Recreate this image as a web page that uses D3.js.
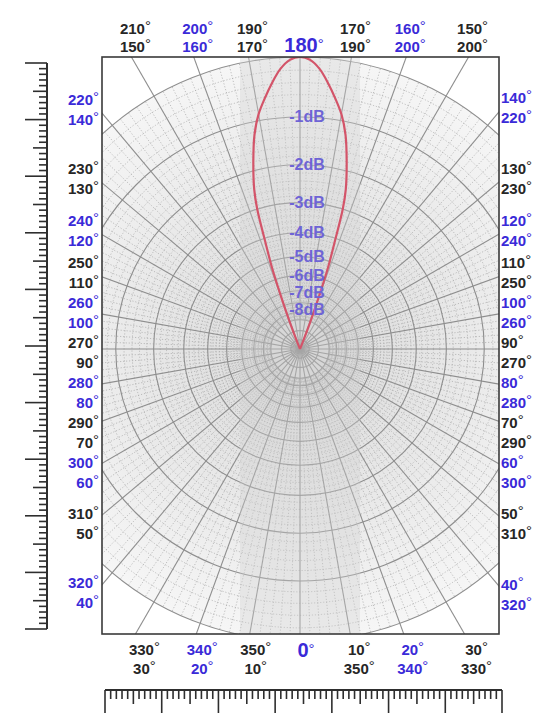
<!DOCTYPE html>
<html><head><meta charset="utf-8">
<script src="https://cdn.jsdelivr.net/npm/d3@7"></script>
<style>
body{margin:0;background:#fff}
svg{display:block}
text{font-family:"Liberation Sans",Arial,sans-serif}
</style>
</head><body>
<svg id="c" width="535" height="713"></svg>
<script>
// ---------------- DATA ----------------
// radiation pattern: spoke angle (deg, 0 = bottom, 180 = top) and relative gain (dB)
const patternPhi = [157,158,159,160,161,162,163,164,166,168,170,172,174,176,178,180,182,184,186,188,190,192,194,196,197,198,199,200,201,202,203];
const patternDb  = [-25,-16,-10.5,-7.5,-5.3,-4.2,-3.0,-2.45,-1.8,-1.25,-0.88,-0.62,-0.38,-0.17,-0.04,0,-0.04,-0.17,-0.38,-0.62,-0.88,-1.25,-1.8,-2.45,-3.0,-4.2,-5.3,-7.5,-10.5,-16,-25];
// dB circle labels
const dbLabelValues = [-1,-2,-3,-4,-5,-6,-7,-8];
// grid circles (dB)
const gridMajorDb = [0,-1,-2,-3,-4,-5,-6,-7,-8,-9,-10,-12,-15,-20];
// angle labels around the frame
const topSpokes    = [150,160,170,180,190,200,210];
const topRowA      = ["210","200","190","180","170","160","150"];
const topRowB      = ["150","160","170","","190","200","200"];
const leftSpokes   = [140,130,120,110,100,90,80,70,60,50,40];
const leftRowA     = ["220","230","240","250","260","270","280","290","300","310","320"];
const leftRowB     = ["140","130","120","110","100","90","80","70","60","50","40"];
const rightSpokes  = [220,230,240,250,260,270,280,290,300,310,320];
const rightRowA    = ["140","130","120","110","100","90","80","70","60","50","40"];
const rightRowB    = ["220","230","240","250","260","270","280","290","300","310","320"];
const bottomSpokes = [30,20,10,0,350,340,330];
const bottomRowA   = ["330","340","350","0","10","20","30"];
const bottomRowB   = ["30","20","10","","350","340","330"];

// ---------------- LAYOUT ----------------
const svg = d3.select("#c");
const F = {x0:102, y0:57, x1:499, y1:634};
const cx = 300, cy = 349, R = 292;
const BLUE = "#3a2ad8", BLACK = "#262626";
const rScale = d3.scaleLinear().domain([0,1]).range([0,R]);   // power ratio -> radius
const rDb = db => rScale(Math.pow(10, db/10));
const rad = phi => phi*Math.PI/180;
const dirX = phi => -Math.sin(rad(phi));
const dirY = phi => Math.cos(rad(phi));

svg.append("rect").attr("width",535).attr("height",713).attr("fill","#fff");

const defs = svg.append("defs");
defs.append("clipPath").attr("id","fr").append("rect")
  .attr("x",F.x0).attr("y",F.y0).attr("width",F.x1-F.x0).attr("height",F.y1-F.y0);
const gr = defs.append("radialGradient").attr("id","gg");
gr.append("stop").attr("offset","0").attr("stop-color","#d8d8d8");
gr.append("stop").attr("offset","0.5").attr("stop-color","#e7e7e7");
gr.append("stop").attr("offset","1").attr("stop-color","#f6f6f6");

const plot = svg.append("g").attr("clip-path","url(#fr)");
const pc = plot.append("g").attr("transform",`translate(${cx},${cy})`);

// background shading
pc.append("circle").attr("r",R).attr("fill","url(#gg)");
plot.append("rect").attr("x",240).attr("y",F.y0).attr("width",120).attr("height",F.y1-F.y0)
  .attr("fill","#d0d0d0").attr("opacity",0.35);

// minor circles
const minorDb = d3.range(1,50).map(i => -i*0.2).filter(v => Math.abs(v - Math.round(v)) > 1e-6);
pc.append("g").selectAll("circle").data(minorDb).join("circle")
  .attr("r", d => rDb(d)).attr("fill","none")
  .attr("stroke","#a6a6a6").attr("stroke-width",0.7).attr("stroke-dasharray","1.2,1.8");
// minor spokes
const minorSpokes = d3.range(0,360,2).filter(a => a % 10 !== 0);
pc.append("g").selectAll("line").data(minorSpokes).join("line")
  .attr("x1", a => dirX(a)*rDb(-10)).attr("y1", a => dirY(a)*rDb(-10))
  .attr("x2", a => dirX(a)*R).attr("y2", a => dirY(a)*R)
  .attr("stroke","#a6a6a6").attr("stroke-width",0.7).attr("stroke-dasharray","1.2,1.8");
// major circles
pc.append("g").selectAll("circle").data(gridMajorDb).join("circle")
  .attr("r", d => rDb(d)).attr("fill","none")
  .attr("stroke","#8e8e8e").attr("stroke-width",1.1);
// major spokes
const majorSpokes = d3.range(0,360,10);
pc.append("g").selectAll("line").data(majorSpokes).join("line")
  .attr("x1",0).attr("y1",0)
  .attr("x2", a => dirX(a)*450).attr("y2", a => dirY(a)*450)
  .attr("stroke","#8e8e8e").attr("stroke-width",1.1);

// pattern
const pat = patternPhi.map((p,i) => ({phi:p, db:patternDb[i]}));
const lr = d3.lineRadial()
  .angle(d => rad(d.phi + 180))
  .radius(d => rDb(d.db))
  .curve(d3.curveCatmullRom.alpha(0.5));
pc.append("path").attr("d", lr(pat) + "Z")
  .attr("fill","none").attr("stroke","#d51232").attr("stroke-width",2.2);

// dB labels (placed at their circle on the beam axis, dodged to avoid overlap)
let prevY = -Infinity;
const dbPos = dbLabelValues.map(d => {
  let y = -rDb(d) + 5;
  if (y < prevY + 17) y = prevY + 17;
  prevY = y;
  return {d, y};
});
pc.append("g").selectAll("text").data(dbPos).join("text")
  .attr("x", 7).attr("y", p => p.y)
  .attr("text-anchor","middle").attr("font-size",16).attr("font-weight","bold")
  .attr("fill",BLUE)
  .text(p => p.d + "dB");

// frame
svg.append("rect").attr("x",F.x0).attr("y",F.y0).attr("width",F.x1-F.x0).attr("height",F.y1-F.y0)
  .attr("fill","none").attr("stroke","#3a3a3a").attr("stroke-width",1.6);

// frame intersection of a spoke
function hit(phi){
  const dx = dirX(phi), dy = dirY(phi);
  let t = Infinity;
  if (dx > 1e-9) t = Math.min(t, (F.x1-cx)/dx);
  if (dx < -1e-9) t = Math.min(t, (F.x0-cx)/dx);
  if (dy > 1e-9) t = Math.min(t, (F.y1-cy)/dy);
  if (dy < -1e-9) t = Math.min(t, (F.y0-cy)/dy);
  return [cx + dx*t, cy + dy*t];
}
const lab = svg.append("g").attr("font-weight","bold");
function deg(x, y, str, color, size, anchor){
  if (!str) return;
  const t = lab.append("text").attr("x",x).attr("y",y).attr("fill",color)
    .attr("font-size",size).attr("text-anchor",anchor);
  t.append("tspan").text(str);
  t.append("tspan").attr("font-size",15).attr("font-weight","normal").attr("dy",-3).text("°");
}
const col = phi => (phi % 20 === 0 ? BLUE : BLACK);

// top
topSpokes.forEach((s,i) => {
  const [x] = hit(s);
  if (s === 180) { deg(x+4, 52, topRowA[i], col(s), 20, "middle"); return; }
  deg(x+4, 34, topRowA[i], col(s), 15, "middle");
  deg(x+4, 52, topRowB[i], col(s), 15, "middle");
});
// bottom
bottomSpokes.forEach((s,i) => {
  const [x] = hit(s);
  const off = 6 + (x > cx ? 3 : 0) + (Math.abs(x-cx) > 120 ? 3 : 0);
  if (s === 0) { deg(x+off, 657, bottomRowA[i], col(s), 20, "middle"); return; }
  deg(x+off, 655, bottomRowA[i], col(s), 15, "middle");
  deg(x+off, 674, bottomRowB[i], col(s), 15, "middle");
});
// left & right: two rows per spoke, stacked top->bottom with a minimum gap
function sideRows(spokes, rowA, rowB){
  const rows = [];
  spokes.forEach((s,i) => {
    const y = hit(s)[1];
    const yc = y + (y < cy-5 ? -5 : (y > cy+5 ? 7 : -2));
    rows.push({s, t: rowA[i], y: yc - 3.5});
    rows.push({s, t: rowB[i], y: yc + 16.5});
  });
  rows.sort((a,b) => a.y - b.y);
  for (let i = 1; i < rows.length; i++)
    if (rows[i].y < rows[i-1].y + 20) rows[i].y = rows[i-1].y + 20;
  return rows;
}
sideRows(leftSpokes, leftRowA, leftRowB).forEach(r => deg(99, r.y, r.t, col(r.s), 15, "end"));
sideRows(rightSpokes, rightRowA, rightRowB).forEach(r => deg(501, r.y, r.t, col(r.s), 15, "start"));

// rulers
const rul = svg.append("g").attr("stroke","#2e2e2e");
const ly = d3.scaleLinear().domain([0,100]).range([63, 629]);
rul.append("line").attr("x1",47).attr("x2",47).attr("y1",ly(0)).attr("y2",ly(100)).attr("stroke-width",2);
rul.selectAll("line.lt").data(d3.range(0,101)).join("line").attr("class","lt")
  .attr("x1", i => 47 - (i%10===0 ? 22 : i%5===0 ? 14 : 8)).attr("x2",47)
  .attr("y1", i => ly(i)).attr("y2", i => ly(i)).attr("stroke-width",1.6);
const bx = d3.scaleLinear().domain([0,70]).range([105, 502]);
rul.append("line").attr("y1",690).attr("y2",690).attr("x1",bx(0)).attr("x2",bx(70)).attr("stroke-width",2);
rul.selectAll("line.bt").data(d3.range(0,71)).join("line").attr("class","bt")
  .attr("y1",690).attr("y2", i => 690 + (i%10===0 ? 25 : i%5===0 ? 14 : 9))
  .attr("x1", i => bx(i)).attr("x2", i => bx(i)).attr("stroke-width",1.6);
</script>
</body></html>
